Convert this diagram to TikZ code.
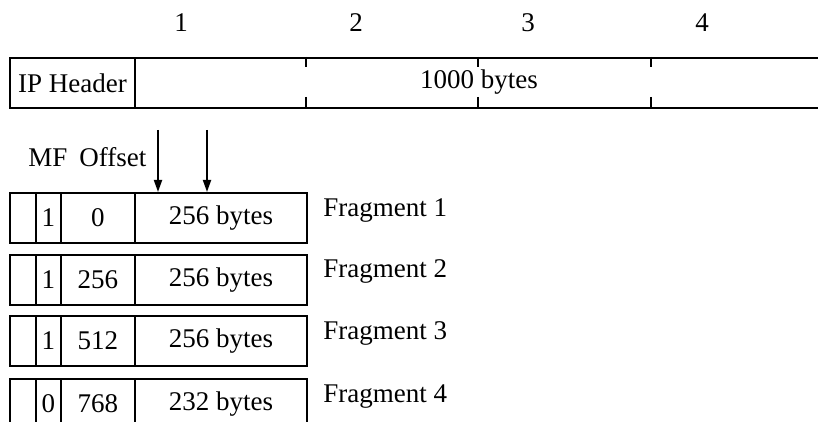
\documentclass[tikz,border=0pt]{standalone}
\usepackage{fontspec}
\setmainfont{Liberation Serif}
\usetikzlibrary{arrows.meta}
\begin{document}
\begin{tikzpicture}[x=0.5pt,y=-0.5pt,
  every node/.style={font=\fontsize{13.5}{16}\selectfont},
  box/.style={draw, line width=0.9pt, inner sep=0pt, minimum height=25pt, anchor=north west},
  c1/.style={box, minimum width=13pt},
  c2/.style={box, minimum width=12.5pt},
  c3/.style={box, minimum width=37pt},
  c4/.style={box, minimum width=86pt},
  lbl/.style={anchor=base west, inner sep=0pt},
  num/.style={anchor=base, inner sep=0pt},
  tick/.style={line width=0.9pt},
  arr/.style={line width=0.9pt, -{Triangle[length=6pt,width=4pt]}}]
\useasboundingbox (0,0) rectangle (818,422);
\clip (0,0) rectangle (818,422);
% column numbers
\node[num] (n1) at (181,32) {1};
\node[num] (n2) at (356,32) {2};
\node[num] (n3) at (528,32) {3};
\node[num] (n4) at (702,32) {4};
% original datagram
\node[box, minimum width=62.5pt] (hdr) at (9,57) {IP Header};
\node[box, minimum width=360pt] (data) at (134,57) {};
\node (dtext) at (479,82) {1000 bytes};
\foreach \x/\n in {306/a,478/b,651/c}{
  \draw[tick] (\x,57) -- (\x,67);
  \draw[tick] (\x,97) -- (\x,107);
}
% MF Offset label and arrows
\node[lbl] (mf) at (28,167) {MF};
\node[lbl] (off) at (79,167) {Offset};
\coordinate (a1) at (158,130);
\coordinate (a2) at (207,130);
% fragments
\foreach \i/\y/\mf/\off/\len in {1/192/1/0/256,2/254/1/256/256,3/315/1/512/256,4/378/0/768/232}{
  \node[c1] (f\i a) at (9,\y) {};
  \node[c2] (f\i b) at (35,\y) {\mf};
  \node[c3] (f\i c) at (60,\y) {\off};
  \node[c4] (f\i d) at (134,\y) {\len\ bytes};
  \node[lbl] (fl\i) at (323,\y+24) {Fragment \i};
}
\draw[arr] (a1) -- (a1 |- f1d.north);
\draw[arr] (a2) -- (a2 |- f1d.north);
\end{tikzpicture}
\end{document}
